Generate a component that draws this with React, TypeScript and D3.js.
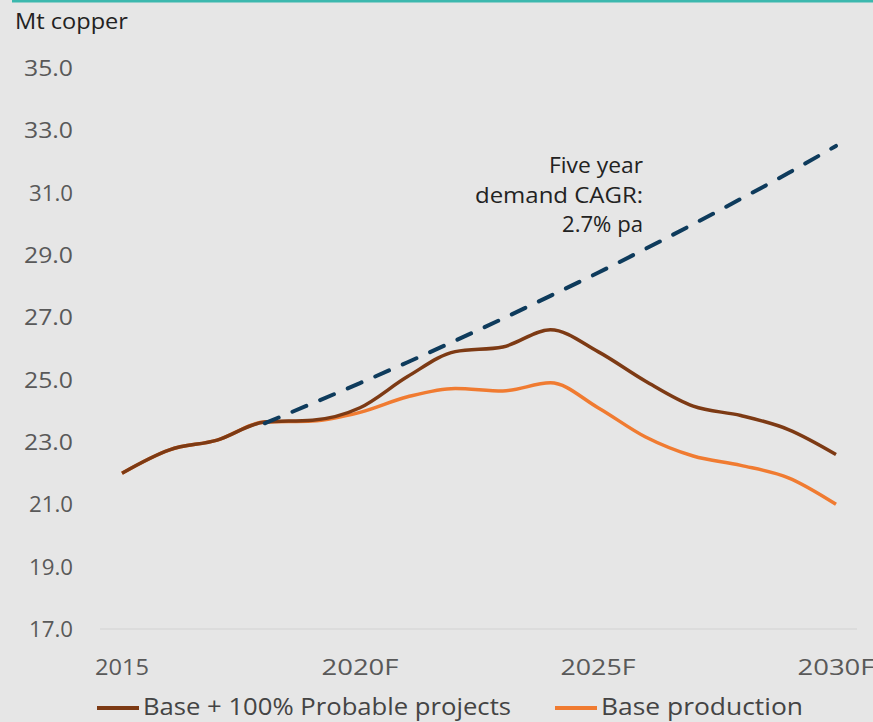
import { useEffect, useRef } from "react";
import * as d3 from "d3";

const years = [2015, 2016, 2017, 2018, 2019, 2020, 2021, 2022, 2023, 2024, 2025, 2026, 2027, 2028, 2029, 2030];
const probable = [22.0, 22.75, 23.06, 23.64, 23.7, 24.1, 25.1, 25.9, 26.05, 26.6, 25.9, 24.95, 24.15, 23.85, 23.4, 22.6];
const baseProd = [22.0, 22.75, 23.06, 23.64, 23.67, 23.95, 24.45, 24.72, 24.64, 24.9, 24.1, 23.16, 22.55, 22.25, 21.85, 21.0];
const demandYears = [2018, 2019, 2020, 2021, 2022, 2023, 2024, 2025, 2026, 2027, 2028, 2029, 2030];
const demand = [23.6, 24.24, 24.89, 25.56, 26.25, 26.96, 27.69, 28.43, 29.2, 29.99, 30.8, 31.63, 32.5];
const yTicks = [17, 19, 21, 23, 25, 27, 29, 31, 33, 35];
const xTicks = [2015, 2020, 2025, 2030];
const xTickLabels = ["2015", "2020F", "2025F", "2030F"];
const annotation = ["Five year", "demand CAGR:", "2.7% pa"];
const legendItems = [
  { label: "Base + 100% Probable projects", color: "#7d3a14" },
  { label: "Base production", color: "#f07b31" },
];

const W = 873;
const H = 722;
const FONT = "'Open Sans', Lato, sans-serif";

export default function App() {
  const svgRef = useRef<SVGSVGElement>(null);

  useEffect(() => {
    const svg = d3.select(svgRef.current);
    svg.selectAll("*").remove();

    const x = d3.scaleLinear().domain([2015, 2030]).range([122, 836]);
    const y = d3.scaleLinear().domain([17, 35]).range([629, 68]);

    svg.append("rect").attr("width", W).attr("height", H).attr("fill", "#e6e6e6");
    svg.append("rect").attr("x", 12).attr("y", 0).attr("width", W - 12).attr("height", 2.5).attr("fill", "#3cb8ae");

    svg.append("text")
      .attr("x", 15).attr("y", 29)
      .attr("font-family", FONT).attr("font-size", 21)
      .attr("textLength", 113).attr("lengthAdjust", "spacingAndGlyphs")
      .attr("fill", "#222").text("Mt copper");

    // only the bottom grid line is drawn
    svg.append("line")
      .attr("x1", 100).attr("x2", 857)
      .attr("y1", y(17)).attr("y2", y(17))
      .attr("stroke", "#d8d8d8").attr("stroke-width", 1.5);

    svg.append("g").selectAll("text").data(yTicks).join("text")
      .attr("x", 73).attr("y", d => y(d) + 8)
      .attr("text-anchor", "end")
      .attr("font-family", FONT).attr("font-size", 21)
      .attr("textLength", d => (String(d).startsWith("1") || String(d).endsWith("1") ? 44 : 49))
      .attr("lengthAdjust", "spacingAndGlyphs")
      .attr("fill", "#595959")
      .text(d => d.toFixed(1));

    const xWidths = [54, 77, 75, 77];
    svg.append("g").selectAll("text").data(xTicks).join("text")
      .attr("x", d => x(d)).attr("y", 675)
      .attr("text-anchor", "middle")
      .attr("font-family", FONT).attr("font-size", 21)
      .attr("textLength", (d, i) => xWidths[i]).attr("lengthAdjust", "spacingAndGlyphs")
      .attr("fill", "#595959")
      .text((d, i) => xTickLabels[i]);

    const line = d3.line<number>().curve(d3.curveMonotoneX);

    svg.append("path")
      .attr("d", line.x((d, i) => x(years[i])).y(d => y(d))(baseProd))
      .attr("fill", "none").attr("stroke", legendItems[1].color).attr("stroke-width", 3.5);

    svg.append("path")
      .attr("d", line.x((d, i) => x(years[i])).y(d => y(d))(probable))
      .attr("fill", "none").attr("stroke", legendItems[0].color).attr("stroke-width", 3.5);

    svg.append("path")
      .attr("d", line.x((d, i) => x(demandYears[i])).y(d => y(d))(demand))
      .attr("fill", "none").attr("stroke", "#0e3b5c").attr("stroke-width", 4)
      .attr("stroke-dasharray", "15 15").attr("stroke-linecap", "round");

    const annWidths = [94, 168, 81];
    svg.append("g").selectAll("text").data(annotation).join("text")
      .attr("x", 643).attr("y", (d, i) => 173 + i * 29.5)
      .attr("text-anchor", "end")
      .attr("font-family", FONT).attr("font-size", 21)
      .attr("textLength", (d, i) => annWidths[i]).attr("lengthAdjust", "spacingAndGlyphs")
      .attr("fill", "#222")
      .text(d => d);

    const leg = svg.append("g");
    const legX = [97, 555];
    const legW = [368, 202];
    legendItems.forEach((item, i) => {
      leg.append("line")
        .attr("x1", legX[i]).attr("x2", legX[i] + 42)
        .attr("y1", 708).attr("y2", 708)
        .attr("stroke", item.color).attr("stroke-width", 4);
      leg.append("text")
        .attr("x", legX[i] + 46).attr("y", 715)
        .attr("font-family", FONT).attr("font-size", 23)
        .attr("textLength", legW[i]).attr("lengthAdjust", "spacingAndGlyphs")
        .attr("fill", "#444")
        .text(item.label);
    });
  }, []);

  return (
    <svg
      ref={svgRef}
      width={W}
      height={H}
      style={{ position: "absolute", left: 0, top: 0, display: "block" }}
    />
  );
}
